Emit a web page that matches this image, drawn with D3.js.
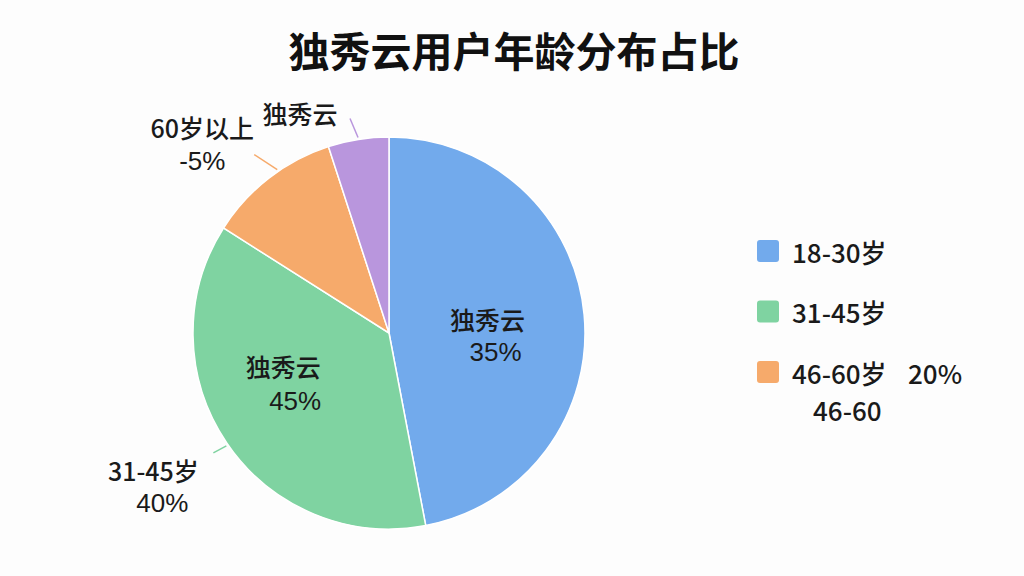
<!DOCTYPE html>
<html>
<head>
<meta charset="utf-8">
<script src="https://cdn.jsdelivr.net/npm/d3@7"></script>
<style>
  body { margin: 0; background: #fdfdfd; }
  svg { font-family: "Noto Sans CJK SC", "Noto Sans", sans-serif; }
</style>
</head>
<body>
<div id="chart"></div>
<script>
// data
var categories = ["18-30岁", "31-45岁", "46-60岁", "60岁以上"];
var values = [47, 37, 11, 5];
var colors = ["#72aaec", "#7fd3a1", "#f6aa6b", "#b996dd"];

// labels printed inside slices (index -> lines)
var innerLabels = [["独秀云", "35%"], ["独秀云", "45%"], null, null];
// labels printed outside slices with leader lines
var outerLabels = [null, ["31-45岁", "40%"], ["60岁以上", "-5%"], ["独秀云"]];

// legend rows
var legendLabels = ["18-30岁", "31-45岁", "46-60岁"];
var legendExtra = [null, null, "20%"];
var legendSub = [null, null, "46-60"];

var width = 1024,
  height = 576,
  cx = 389,
  cy = 333,
  radius = 196;

var svg = d3
  .select("#chart")
  .append("svg")
  .attr("width", width)
  .attr("height", height);

// title
svg
  .append("text")
  .attr("x", 514)
  .attr("y", 67)
  .attr("text-anchor", "middle")
  .style("font-size", "41px")
  .style("font-weight", "bold")
  .style("fill", "#111")
  .text("独秀云用户年龄分布占比");

var g = svg.append("g").attr("transform", `translate(${cx}, ${cy})`);

var pie = d3.pie().sort(null).value(function (d) {
  return d;
});
var arcs = pie(values);

var arcGenerator = d3.arc().innerRadius(0).outerRadius(radius);

// point on a circle, angle measured clockwise from 12 o'clock
function polar(angle, r) {
  return [r * Math.sin(angle), -r * Math.cos(angle)];
}
function midAngle(d) {
  return (d.startAngle + d.endAngle) / 2;
}

// one text per line; pure number lines use an Arial-like face
function addLabel(x, y, lines, shifts) {
  lines.forEach(function (line, k) {
    var numeric = /^[-\d%]+$/.test(line);
    g.append("text")
      .attr("x", x + shifts[k][0])
      .attr("y", y + shifts[k][1] + (numeric ? 1 : 0))
      .attr("text-anchor", "middle")
      .attr("dominant-baseline", "central")
      .style("font-family", numeric ? '"Liberation Sans", Arial, sans-serif' : null)
      .style("font-size", numeric ? "26px" : "25px")
      .style("font-weight", 500)
      .style("fill", "#1a1a1a")
      .text(line);
  });
}

// slices
g.selectAll("path")
  .data(arcs)
  .enter()
  .append("path")
  .attr("d", arcGenerator)
  .attr("fill", function (d, i) {
    return colors[i];
  })
  .attr("stroke", "#fff")
  .attr("stroke-width", 1.5);

// inner labels, offsets per line relative to the centroid
var innerArc = d3.arc().innerRadius(105).outerRadius(105);
var innerShift = [
  [[-6, -4], [2, 28]],
  [[-19, -26], [-7, 8]],
];
arcs.forEach(function (d, i) {
  if (!innerLabels[i]) return;
  var c = innerArc.centroid(d);
  addLabel(c[0], c[1], innerLabels[i], innerShift[i]);
});

// leader lines + outer labels
var leaderTurn = [0, -0.01, 0.06, 0];
var leaderVec = [null, [-13, 7], [-23, -15], [-8, -19]];
var outerShift = [
  null,
  [[-60, 17], [-51, 49]],
  [[-52, -28], [-52, 5]],
  [[-50, -5]],
];
arcs.forEach(function (d, i) {
  if (!outerLabels[i]) return;
  var a = polar(midAngle(d) + leaderTurn[i], radius + 2),
    b = [a[0] + leaderVec[i][0], a[1] + leaderVec[i][1]];
  g.append("line")
    .attr("x1", a[0])
    .attr("y1", a[1])
    .attr("x2", b[0])
    .attr("y2", b[1])
    .attr("stroke", colors[i])
    .attr("stroke-width", 1.5);
  addLabel(b[0], b[1], outerLabels[i], outerShift[i]);
});

// legend
var legendY = d3.scalePoint().domain(legendLabels).range([251, 372]);
var legend = svg
  .selectAll(".legend")
  .data(legendLabels)
  .enter()
  .append("g")
  .attr("class", "legend")
  .attr("transform", function (d) {
    return `translate(757, ${legendY(d)})`;
  });

legend
  .append("rect")
  .attr("x", 0)
  .attr("y", -11)
  .attr("width", 22)
  .attr("height", 22)
  .attr("rx", 3)
  .attr("fill", function (d, i) {
    return colors[i];
  });

legend
  .append("text")
  .attr("x", 35)
  .attr("y", 0)
  .attr("dominant-baseline", "central")
  .style("font-size", "26px")
  .style("font-weight", 500)
  .style("fill", "#1a1a1a")
  .text(function (d) {
    return d;
  });

legend
  .filter(function (d, i) {
    return legendExtra[i];
  })
  .append("text")
  .attr("x", 151)
  .attr("y", 0)
  .attr("dominant-baseline", "central")
  .style("font-size", "26px")
  .style("font-weight", 500)
  .style("fill", "#1a1a1a")
  .text(function (d) {
    return legendExtra[legendLabels.indexOf(d)];
  });

legend
  .filter(function (d, i) {
    return legendSub[i];
  })
  .append("text")
  .attr("x", 56)
  .attr("y", 37)
  .attr("dominant-baseline", "central")
  .style("font-size", "26px")
  .style("font-weight", 500)
  .style("fill", "#1a1a1a")
  .text(function (d) {
    return legendSub[legendLabels.indexOf(d)];
  });
</script>
</body>
</html>
